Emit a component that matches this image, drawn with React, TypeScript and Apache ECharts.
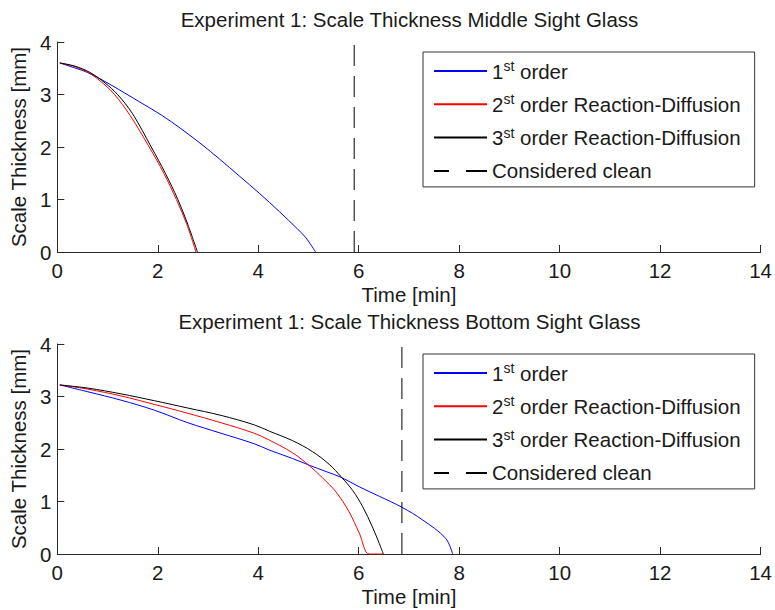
import React, { useEffect, useRef } from "react";
import * as echarts from "echarts";

// ---- Data ----
// Middle sight glass
const midT1 = [0.05, 0.6, 0.87, 1.34, 1.67, 2.07, 2.46, 2.86, 3.23, 3.62, 4.02, 4.42, 4.78, 4.95, 5.14];
const midV1 = [3.6, 3.42, 3.29, 3.03, 2.84, 2.61, 2.35, 2.06, 1.77, 1.45, 1.12, 0.77, 0.44, 0.27, 0.0];
const midT2 = [0.05, 0.35, 0.65, 0.95, 1.14, 1.45, 1.83, 2.12, 2.37, 2.58, 2.76];
const midV2 = [3.6, 3.53, 3.4, 3.18, 3.0, 2.6, 2.0, 1.5, 1.0, 0.52, 0.0];
const midT3 = [0.05, 0.35, 0.65, 0.95, 1.2, 1.5, 1.87, 2.15, 2.4, 2.6, 2.79];
const midV3 = [3.6, 3.54, 3.42, 3.22, 3.0, 2.63, 2.0, 1.5, 1.0, 0.52, 0.0];
const midClean = 5.91;

// Bottom sight glass
const botT1 = [0.05, 0.61, 1.27, 1.93, 2.6, 3.26, 3.92, 4.22, 4.68, 5.02, 5.35, 5.65, 6.01, 6.41, 6.86, 7.27, 7.73, 7.87];
const botV1 = [3.22, 3.09, 2.93, 2.74, 2.5, 2.3, 2.1, 1.98, 1.82, 1.69, 1.57, 1.46, 1.28, 1.1, 0.89, 0.65, 0.3, 0.0];
const botT2 = [0.05, 0.61, 1.27, 1.93, 2.6, 3.26, 3.92, 4.22, 4.68, 5.02, 5.28, 5.55, 5.81, 6.01, 6.21, 6.48];
const botV2 = [3.22, 3.14, 3.01, 2.85, 2.68, 2.5, 2.3, 2.17, 1.93, 1.68, 1.45, 1.18, 0.8, 0.4, 0.0, 0.0];
const botT3 = [0.05, 0.61, 1.27, 1.93, 2.6, 3.26, 3.92, 4.22, 4.68, 5.08, 5.41, 5.65, 5.88, 6.08, 6.27, 6.41, 6.49];
const botV3 = [3.22, 3.16, 3.05, 2.92, 2.78, 2.64, 2.46, 2.34, 2.16, 1.95, 1.71, 1.47, 1.21, 0.9, 0.52, 0.2, 0.0];
const botClean = 6.86;

const seriesNames = ["1st order", "2st order Reaction-Diffusion", "3st order Reaction-Diffusion", "Considered clean"];
const seriesColors = ["#0000ff", "#ff0000", "#000000", "#000000"];
const titles = [
  "Experiment 1: Scale Thickness Middle Sight Glass",
  "Experiment 1: Scale Thickness Bottom Sight Glass",
];
const xName = "Time [min]";
const yName = "Scale Thickness [mm]";
const yRange = [0, 4];

const FONT = "'Liberation Sans', Arial, Helvetica, sans-serif";
const FS = 20.5;
const TXT = "#1a1a1a";
const AX = "#2b2b2b";

const zip = (t: number[], v: number[]) => t.map((x, i) => [x, v[i]]);

export default function App() {
  const ref = useRef<HTMLDivElement>(null);
  useEffect(() => {
    if (!ref.current) return;
    const chart = echarts.init(ref.current, undefined, { renderer: "svg" });
    const grids = [
      { left: 57, top: 42, width: 705, height: 210 },
      { left: 57, top: 344, width: 705, height: 210 },
    ];
    const plots = [
      { curves: [zip(midT1, midV1), zip(midT2, midV2), zip(midT3, midV3)], clean: midClean },
      { curves: [zip(botT1, botV1), zip(botT2, botV2), zip(botT3, botV3)], clean: botClean },
    ];
    const series: any[] = [];
    plots.forEach((p, gi) => {
      p.curves.forEach((d, k) => {
        series.push({
          type: "line",
          name: seriesNames[k],
          xAxisIndex: gi,
          yAxisIndex: gi,
          data: d,
          symbol: "none",
          showSymbol: false,
          smooth: 0.35,
          lineStyle: { color: seriesColors[k], width: 1 },
          itemStyle: { color: seriesColors[k] },
          emphasis: { disabled: true },
        });
      });
      series.push({
        type: "line",
        name: seriesNames[3],
        xAxisIndex: gi,
        yAxisIndex: gi,
        data: [
          [p.clean, yRange[0]],
          [p.clean, yRange[1]],
        ],
        symbol: "none",
        showSymbol: false,
        lineStyle: { color: seriesColors[3], width: 1, type: [21, 10] },
        itemStyle: { color: seriesColors[3] },
        emphasis: { disabled: true },
      });
    });

    const fmt = (name: string) => {
      const m = name.match(/^(\d)st (.*)$/);
      if (m) return `{n|${m[1]}}{sup|st}{n| ${m[2]}}`;
      return `{n|${name}}`;
    };

    const option: any = {
      animation: false,
      backgroundColor: "#ffffff",
      title: titles.map((text, i) => ({
        text,
        left: 409.5,
        top: [9, 311][i],
        textAlign: "center",
        padding: 0,
        textStyle: { fontFamily: FONT, fontSize: FS, fontWeight: "normal", color: TXT },
      })),
      grid: grids.map((g) => ({ ...g, containLabel: false })),
      xAxis: grids.map((_, i) => ({
        type: "value",
        gridIndex: i,
        min: 0,
        max: 14,
        interval: 2,
        name: xName,
        nameLocation: "middle",
        nameGap: 32,
        nameTextStyle: { fontFamily: FONT, fontSize: FS, color: TXT },
        axisLine: { show: true, onZero: false, lineStyle: { color: AX, width: 1 } },
        axisTick: { show: true, inside: true, length: 7, lineStyle: { color: AX, width: 1 } },
        axisLabel: { margin: 8, fontFamily: FONT, fontSize: FS, color: TXT },
        splitLine: { show: false },
      })),
      yAxis: grids.map((_, i) => ({
        type: "value",
        gridIndex: i,
        min: yRange[0],
        max: yRange[1],
        interval: 1,
        name: yName,
        nameLocation: "middle",
        nameGap: 27,
        nameTextStyle: { fontFamily: FONT, fontSize: FS, color: TXT },
        axisLine: { show: true, onZero: false, lineStyle: { color: AX, width: 1 } },
        axisTick: { show: true, inside: true, length: 7, lineStyle: { color: AX, width: 1 } },
        axisLabel: { margin: 6, fontFamily: FONT, fontSize: FS, color: TXT },
        splitLine: { show: false },
      })),
      legend: grids.map((g) => ({
        orient: "vertical",
        left: 423,
        top: g.top + 10,
        padding: [7, 14, 4, 10],
        itemGap: 9.3,
        itemWidth: 53,
        itemHeight: 14,
        selectedMode: false,
        backgroundColor: "#ffffff",
        borderColor: "#333333",
        borderWidth: 1,
        borderRadius: 0,
        itemStyle: { opacity: 0 },
        data: seriesNames.map((n, k) =>
          k === 3 ? { name: n, lineStyle: { type: [15, 17, 21, 10] } } : { name: n }
        ),
        formatter: fmt,
        textStyle: {
          fontFamily: FONT,
          fontSize: FS,
          color: TXT,
          lineHeight: 24,
          rich: {
            n: { fontFamily: FONT, fontSize: FS, color: TXT, lineHeight: 24 },
            sup: { fontFamily: FONT, fontSize: 14, color: TXT, lineHeight: 14, verticalAlign: "top" },
          },
        },
      })),
      series,
    };
    chart.setOption(option);
    return () => chart.dispose();
  }, []);
  return (
    <div
      ref={ref}
      style={{ position: "absolute", left: 0, top: 0, width: 775, height: 610, background: "#fff" }}
    />
  );
}
